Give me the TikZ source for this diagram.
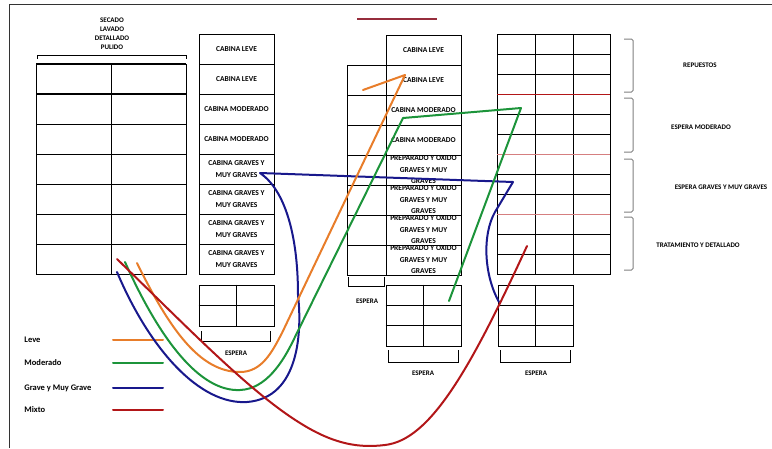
\documentclass[tikz,border=0pt]{standalone}
\usepackage{fontspec}
\setmainfont{Carlito}
\usepackage{tikz}
\usetikzlibrary{positioning}

\definecolor{leve}{RGB}{232,125,42}
\definecolor{moderado}{RGB}{28,148,58}
\definecolor{grave}{RGB}{24,24,140}
\definecolor{mixto}{RGB}{178,22,24}
\definecolor{vino}{RGB}{150,45,60}

\newcommand{\cellfont}{\bfseries\fontsize{7.5}{12}\selectfont}
\newcommand{\tagfont}{\bfseries\fontsize{7}{9}\selectfont}
\newcommand{\keyfont}{\bfseries\fontsize{8.5}{10}\selectfont}

\begin{document}
\begin{tikzpicture}[x=1pt, y=-1pt, line width=0.9pt,
        cell/.style={draw, minimum width=75pt, minimum height=30pt, inner sep=0pt, font=\cellfont, align=center},
        prep/.style={font=\bfseries\fontsize{7.5}{11.5}\selectfont, align=center, inner sep=0pt},
        tag/.style={font=\tagfont, inner sep=0pt},
        side/.style={draw=gray, line width=1pt, rounded corners=1.5pt},
        flow/.style={line width=2pt, line cap=round, line join=round},
        key/.style={font=\keyfont, anchor=west, inner sep=0pt}]
        \useasboundingbox (0,0) rectangle (772,448);
        \draw[black!80, line width=1pt] (9,448) -- (9,4) -- (772,4);
        \draw[vino, line width=1.5pt] (357,19) -- (437,19);

        % secado / lavado table
        \node[tag] (secado) at (112,20) {SECADO};
        \node[tag] (lavado) at (112,29) {LAVADO};
        \node[tag] (detallado) at (112,38) {DETALLADO};
        \node[tag] (pulido) at (112,47) {PULIDO};
        \draw (37,59) -- (37,55) -- (186,55) -- (186,59);
        \foreach \y in {79,109,...,259} {
            \node[cell] (lav-a-\y) at (73.5,\y) {};
            \node[cell] (lav-b-\y) at (148.5,\y) {};
        }
        \draw[line width=1.6pt] (36,64) -- (186,64) (36,94) -- (186,94);

        % cabinas
        \node[cell] (cab1) at (236.5,49) {CABINA LEVE};
        \node[cell] (cab2) at (236.5,79) {CABINA LEVE};
        \node[cell] (cab3) at (236.5,109) {CABINA MODERADO};
        \node[cell] (cab4) at (236.5,139) {CABINA MODERADO};
        \node[cell] (cab5) at (236.5,169) {CABINA GRAVES Y\\MUY GRAVES};
        \node[cell] (cab6) at (236.5,199) {CABINA GRAVES Y\\MUY GRAVES};
        \node[cell] (cab7) at (236.5,229) {CABINA GRAVES Y\\MUY GRAVES};
        \node[cell] (cab8) at (236.5,259) {CABINA GRAVES Y\\MUY GRAVES};

        \node[draw, minimum width=75pt, minimum height=41pt] (espCab) at (236.5,305.5) {};
        \draw (espCab.north) -- (espCab.south) (espCab.west) -- (espCab.east);
        \draw (201,331) -- (201,341) -- (270,341) -- (270,331);
        \node[tag] (espCabTxt) at (236,353) {ESPERA};

        % preparado
        \node[cell] (prep1) at (423.5,50) {CABINA LEVE};
        \node[cell] (prep2) at (423.5,80) {CABINA LEVE};
        \node[cell] (prep3) at (423.5,110) {CABINA MODERADO};
        \node[cell] (prep4) at (423.5,140) {CABINA MODERADO};
        \node[cell, label={[prep]center:{PREPARADO Y OXIDO\\GRAVES Y MUY\\GRAVES}}] (prep5) at (423.5,170) {};
        \node[cell, label={[prep]center:{PREPARADO Y OXIDO\\GRAVES Y MUY\\GRAVES}}] (prep6) at (423.5,200) {};
        \node[cell, label={[prep]center:{PREPARADO Y OXIDO\\GRAVES Y MUY\\GRAVES}}] (prep7) at (423.5,230) {};
        \node[cell, label={[prep]center:{PREPARADO Y OXIDO\\GRAVES Y MUY\\GRAVES}}] (prep8) at (423.5,260) {};
        \foreach \y in {80,110,...,260}
            \node[cell, minimum width=39pt] (fila-\y) at (366.5,\y) {};
        \draw (348,277) -- (348,286) -- (384,286) -- (384,277);
        \node[tag] (espFilaTxt) at (367,301) {ESPERA};

        \node[draw, minimum width=75pt, minimum height=61pt] (espPrep) at (423.5,315.5) {};
        \draw (espPrep.north) -- (espPrep.south)
            ([yshift=10pt]espPrep.west) -- ([yshift=10pt]espPrep.east)
            ([yshift=-10pt]espPrep.west) -- ([yshift=-10pt]espPrep.east);
        \draw (388,350) -- (388,362) -- (458,362) -- (458,350);
        \node[tag] (espPrepTxt) at (423,373) {ESPERA};

        % repuestos / tratamiento
        \node[draw, minimum width=113pt, minimum height=240pt] (rep) at (553.5,154) {};
        \draw (535,34) -- (535,274) (573,34) -- (573,274);
        \foreach \y in {54,74,114,134,174,194,234,254}
            \draw (497,\y) -- (610,\y);
        \draw[mixto] (497,94) -- (610,94);
        \draw[mixto!55] (497,154) -- (610,154) (497,214) -- (610,214);

        \node[draw, minimum width=75pt, minimum height=61pt] (espRep) at (535.5,315.5) {};
        \draw (espRep.north) -- (espRep.south)
            ([yshift=10pt]espRep.west) -- ([yshift=10pt]espRep.east)
            ([yshift=-10pt]espRep.west) -- ([yshift=-10pt]espRep.east);
        \draw (500,350) -- (500,362) -- (570,362) -- (570,350);
        \node[tag] (espRepTxt) at (536,373) {ESPERA};

        \draw[side] (624,39) -- (633,39) -- (633,92) -- (624,92);
        \draw[side] (624,98) -- (633,98) -- (633,152) -- (624,152);
        \draw[side] (624,159) -- (633,159) -- (633,212) -- (624,212);
        \draw[side] (624,217) -- (633,217) -- (633,270) -- (624,270);
        \node[tag] (repuestos) at (700,65) {REPUESTOS};
        \node[tag] (espMod) at (701,127) {ESPERA MODERADO};
        \node[tag] (espGrav) at (721,187) {ESPERA GRAVES Y MUY GRAVES};
        \node[tag] (trat) at (698,245) {TRATAMIENTO Y DETALLADO};

        % legend
        \node[key] (kLeve) at (24,340) {Leve};
        \node[key] (kMod) at (24,363) {Moderado};
        \node[key] (kGrav) at (24,388) {Grave y Muy Grave};
        \node[key] (kMix) at (24,410) {Mixto};
        \draw[flow, leve] (113,340) -- (163,340);
        \draw[flow, moderado] (113,363) -- (163,363);
        \draw[flow, grave] (113,388) -- (163,388);
        \draw[flow, mixto] (113,410) -- (163,410);

        % recorridos
        \coordinate (leveA) at (137,263);
        \coordinate (leveB) at (363,90);
        \coordinate (modA) at (125,262);
        \coordinate (modB) at (449,301);
        \coordinate (gravA) at (117,272);
        \coordinate (gravB) at (499,302);
        \coordinate (mixA) at (117,259);
        \coordinate (mixB) at (527,246);

        \draw[flow, grave] (gravA) .. controls (150,350) and (200,405) .. (247,402)
            .. controls (300,398) and (302,330) .. (298,295)
            .. controls (298,235) and (285,190) .. (260,173) -- (513,182) -- (495,212)
            .. controls (482,235) and (484,275) .. (gravB);
        \draw[flow, moderado] (modA) .. controls (160,340) and (200,392) .. (240,390)
            .. controls (266,389) and (283,362) .. (294,339) -- (403,118) -- (521,108) -- (modB);
        \draw[flow, leve] (leveA) .. controls (170,330) and (200,372) .. (240,372)
            .. controls (262,372) and (272,352) .. (282,333) -- (405,75) -- (leveB);
        \draw[flow, mixto] (mixA) .. controls (190,330) and (250,392) .. (300,423)
            .. controls (335,445) and (360,448) .. (385,445)
            .. controls (430,440) and (470,370) .. (mixB);
\end{tikzpicture}
\end{document}
